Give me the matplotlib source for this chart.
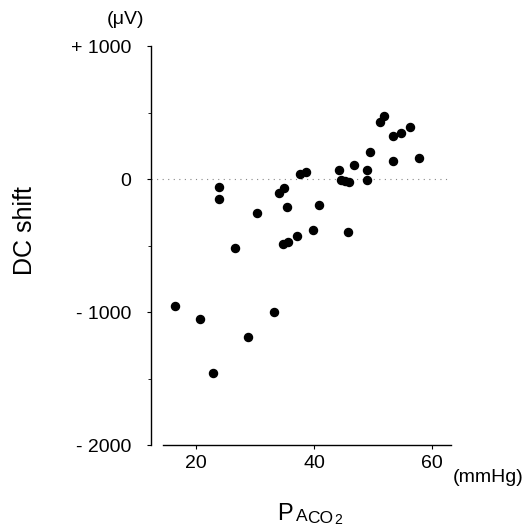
import matplotlib
matplotlib.use("Agg")
import matplotlib.pyplot as plt
from matplotlib.ticker import MultipleLocator

plt.rcParams['font.family'] = ['Liberation Sans', 'DejaVu Sans']

# PaCO2 (mmHg) vs DC shift (uV)
paco2 = [24.0, 24.0, 34.1, 35.0, 35.5, 37.7, 38.6, 40.8, 44.3, 44.6,
         45.3, 45.9, 46.7, 48.9, 48.9, 49.5, 51.2, 51.8, 53.3, 53.3,
         54.7, 56.3, 57.7, 30.4, 26.7, 34.8, 35.6, 37.1, 39.9, 45.8,
         16.4, 20.7, 33.2, 28.9, 22.9]
dc_shift = [-58, -148, -108, -68, -208, 38, 55, -193, 70, -5,
            -15, -23, 103, 68, -5, 205, 426, 471, 133, 321,
            348, 391, 158, -253, -519, -487, -476, -426, -386, -396,
            -955, -1051, -1000, -1191, -1457]

y_ticks = [1000, 0, -1000, -2000]
y_tick_labels = ['+ 1000', '0', '- 1000', '- 2000']
x_ticks = [20, 40, 60]

fig = plt.figure(figsize=(5.24, 5.32), dpi=100)
ax = fig.add_axes([0.288, 0.1635, 0.573, 0.75])

ax.axhline(0, color='#888888', lw=0.8, ls=(0, (1, 4)), zorder=1)
ax.plot(paco2, dc_shift, 'o', color='black', ms=5.8, zorder=3)

ax.set_xlim(12.4, 63.2)
ax.set_ylim(-2000, 1000)
for s in ['top', 'right']:
    ax.spines[s].set_visible(False)
ax.spines['bottom'].set_bounds(14.4, 63.2)
ax.spines['left'].set_linewidth(1.0)
ax.spines['bottom'].set_linewidth(1.0)

ax.set_yticks(y_ticks)
ax.set_yticklabels(y_tick_labels, fontsize=14)
ax.yaxis.set_minor_locator(MultipleLocator(500))
ax.set_xticks(x_ticks)
ax.set_xticklabels([str(t) for t in x_ticks], fontsize=14)
ax.tick_params(axis='y', which='major', length=3, width=0.8, pad=11)
ax.tick_params(axis='y', which='minor', length=2, width=0.6)
ax.tick_params(axis='x', which='major', length=3, width=0.8, pad=4)

fig.text(126 / 524, 1 - 20 / 532, '(μV)', fontsize=14, ha='center', va='center')
fig.text(523 / 524, 1 - 478 / 532, '(mmHg)', fontsize=14, ha='right', va='center')
fig.text(25 / 524, 1 - 231 / 532, 'DC shift', fontsize=18, rotation=90,
         ha='center', va='center')

# P_A CO2 label built from pieces
fig.text(277 / 524, 1 - 520 / 532, 'P', fontsize=17, ha='left', va='baseline')
fig.text(296 / 524, 1 - 521 / 532, 'A', fontsize=12.5, ha='left', va='baseline')
fig.text(307 / 524, 1 - 523 / 532, 'CO', fontsize=12.5, ha='left', va='baseline')
fig.text(334 / 524, 1 - 524 / 532, '2', fontsize=10, ha='left', va='baseline')

fig.savefig('out.png', dpi=100)
